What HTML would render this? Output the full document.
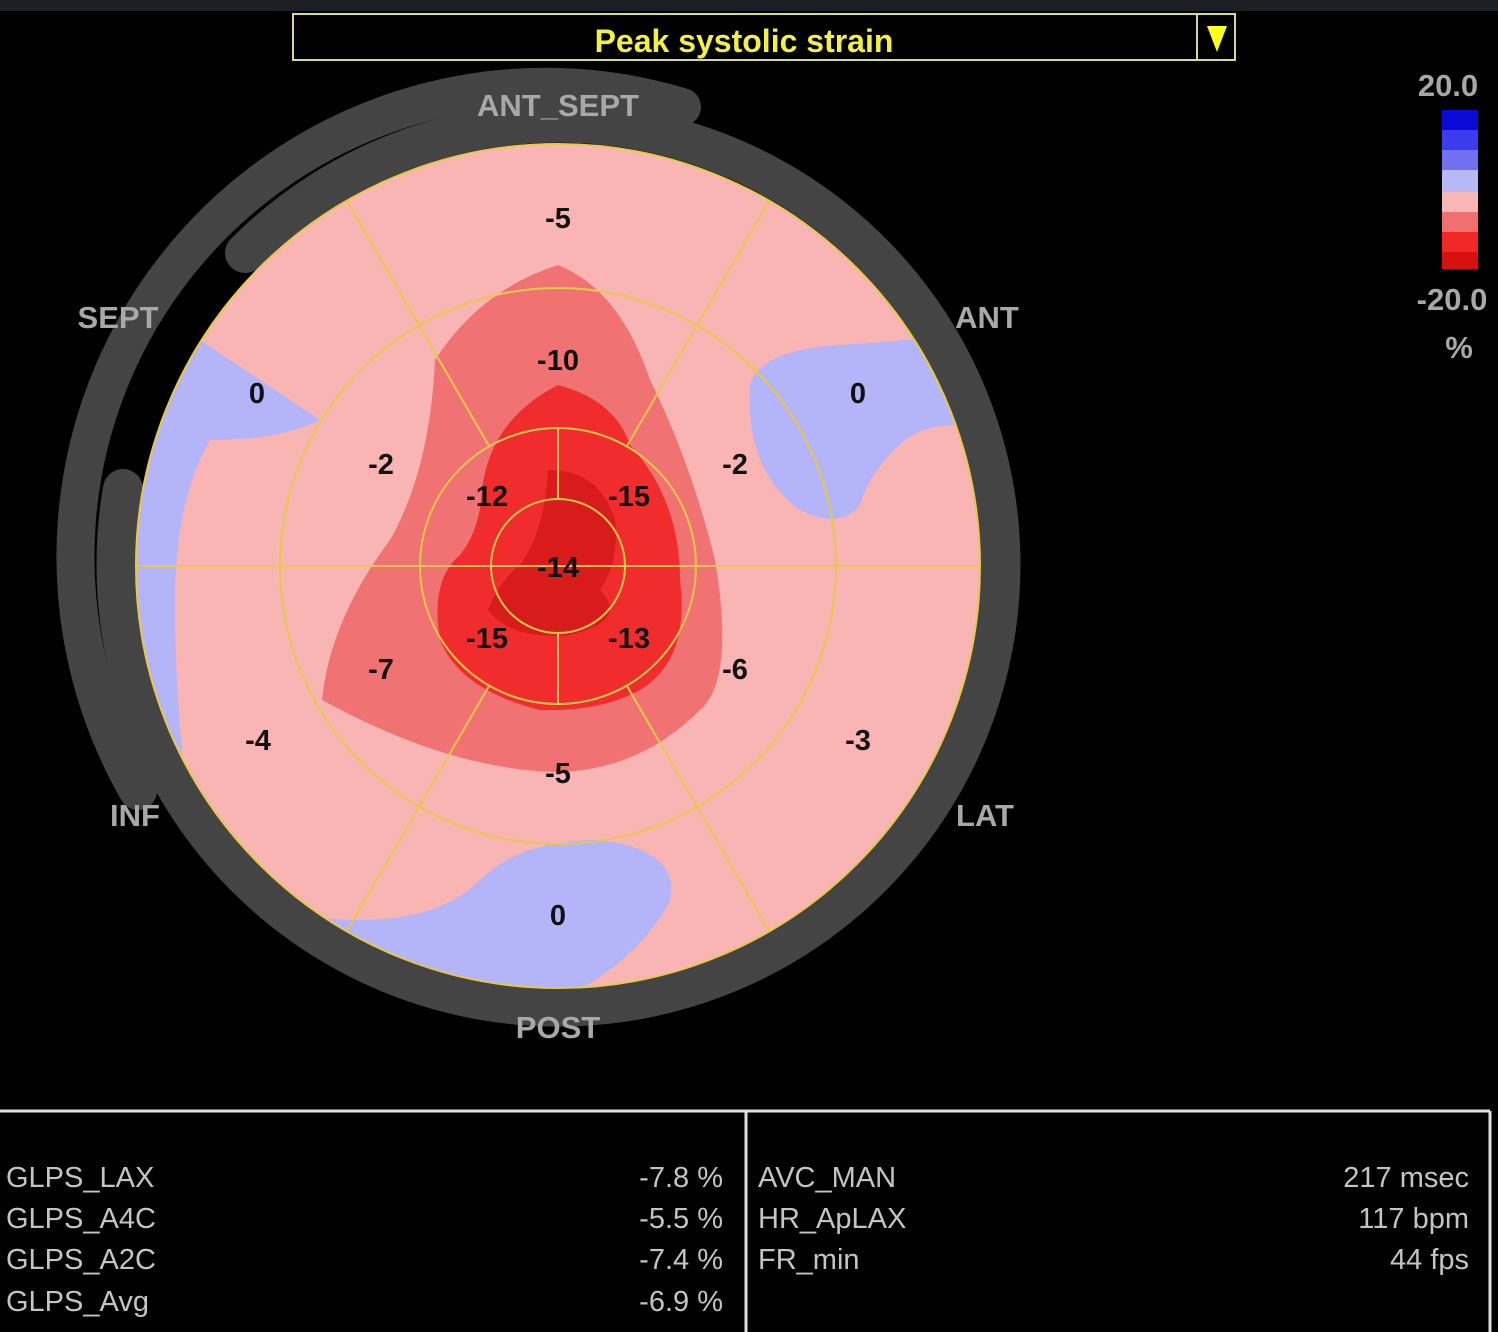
<!DOCTYPE html>
<html><head><style>
body{margin:0;background:#000;width:1498px;height:1332px;overflow:hidden;position:relative;font-family:"Liberation Sans",sans-serif}
.t{position:absolute;color:#c4c4c4;font-size:29px}
</style></head><body>
<div style="position:absolute;left:0;top:0;width:1498px;height:11px;background:#1c1e24"></div>
<svg width="1498" height="1332" style="position:absolute;left:0;top:0">
<rect x="293" y="14" width="942" height="46" fill="#000" stroke="#d8d890" stroke-width="2"/>
<line x1="1197" y1="14" x2="1197" y2="60" stroke="#d8d890" stroke-width="2"/>
<polygon points="1207,26 1227,26 1217,52" fill="#ffff20"/>
<text x="744" y="52" font-size="32" font-weight="bold" fill="#f4f040" text-anchor="middle" font-family="Liberation Sans Narrow, Liberation Sans, sans-serif">Peak systolic strain</text>
<g fill="none" stroke="#444" stroke-linecap="round">
<path d="M682,107 A470,470 0 0 0 138,791" stroke-width="38"/>
<path d="M123,489 A442,442 0 1 0 245,253" stroke-width="40"/>
</g>
<clipPath id="c"><circle cx="558" cy="566" r="422"/></clipPath>
<g clip-path="url(#c)">
<rect x="130" y="140" width="860" height="860" fill="#f9b4b4"/>
<path d="M130,330 L200,340 Q260,380 320,420 Q280,440 210,440 Q175,500 175,600 Q175,750 200,880 Q280,920 360,920 Q440,920 480,880 Q520,840 600,840 Q680,850 670,900 Q640,960 560,1000 L130,1000Z" fill="#b4b4f8"/>
<path d="M750,385 Q760,350 840,345 Q920,340 990,330 L990,425 Q930,420 905,440 Q870,470 860,505 Q840,530 800,510 Q745,470 750,385Z" fill="#b4b4f8"/>
<path d="M558,265 Q620,290 650,380 Q690,460 715,560 Q735,680 700,710 Q640,770 558,772 Q450,770 322,700 Q330,620 390,540 Q430,470 435,360 Q480,290 558,265Z" fill="#f07272"/>
<path d="M558,385 Q615,400 630,445 Q680,500 680,580 Q690,660 640,690 Q600,712 540,710 Q460,690 440,640 Q430,580 460,555 Q480,530 482,490 Q490,420 558,385Z" fill="#f02c2c"/>
<path d="M548,470 Q600,470 615,520 Q620,560 600,590 Q630,620 570,635 Q510,640 488,610 Q500,580 520,565 Q545,530 548,470Z" fill="#d81c1c"/>
</g>
<g stroke="#e6c84a" stroke-width="2" fill="none">
<circle cx="558" cy="566" r="422"/>
<circle cx="558" cy="566" r="278"/>
<circle cx="558" cy="566" r="138"/>
<circle cx="558" cy="566" r="67"/>
<line x1="136" y1="566" x2="980" y2="566"/>
<line x1="558" y1="428" x2="558" y2="499"/>
<line x1="558" y1="633" x2="558" y2="704"/>
<line x1="489" y1="446" x2="347" y2="201"/>
<line x1="627" y1="446" x2="769" y2="201"/>
<line x1="489" y1="686" x2="347" y2="931"/>
<line x1="627" y1="686" x2="769" y2="931"/>
</g>
<g font-size="29" font-weight="bold" fill="#111" text-anchor="middle">
<text x="558" y="228">-5</text><text x="558" y="370">-10</text>
<text x="257" y="403">0</text><text x="858" y="403">0</text>
<text x="381" y="474">-2</text><text x="735" y="474">-2</text>
<text x="487" y="506">-12</text><text x="629" y="506">-15</text>
<text x="558" y="577">-14</text>
<text x="487" y="648">-15</text><text x="629" y="648">-13</text>
<text x="381" y="679">-7</text><text x="735" y="679">-6</text>
<text x="258" y="750">-4</text><text x="858" y="750">-3</text>
<text x="558" y="783">-5</text><text x="558" y="925">0</text>
</g>
<g font-size="31" font-weight="bold" fill="#a8a8a8" text-anchor="middle">
<text x="558" y="116">ANT_SEPT</text><text x="118" y="328">SEPT</text>
<text x="987" y="328">ANT</text><text x="135" y="826">INF</text>
<text x="985" y="826">LAT</text><text x="558" y="1038">POST</text>
<text x="1448" y="96">20.0</text><text x="1452" y="310">-20.0</text><text x="1459" y="358">%</text>
</g>
<rect x="1442" y="110" width="36" height="20" fill="#0a0ad8"/>
<rect x="1442" y="130" width="36" height="20" fill="#3c3cec"/>
<rect x="1442" y="150" width="36" height="20" fill="#7070f0"/>
<rect x="1442" y="170" width="36" height="22" fill="#b8b8f8"/>
<rect x="1442" y="192" width="36" height="20" fill="#f8b8b8"/>
<rect x="1442" y="212" width="36" height="20" fill="#f07070"/>
<rect x="1442" y="232" width="36" height="20" fill="#f02828"/>
<rect x="1442" y="252" width="36" height="17" fill="#d81010"/>
<g stroke="#e0e0e0" stroke-width="3" fill="none">
<line x1="0" y1="1111" x2="1490" y2="1111"/>
<line x1="1490" y1="1111" x2="1490" y2="1332"/>
<line x1="746" y1="1111" x2="746" y2="1332"/>
</g>
</svg>
<div class="t" style="left:6px;top:1162px">GLPS_LAX</div>
<div class="t" style="left:6px;top:1203px">GLPS_A4C</div>
<div class="t" style="left:6px;top:1244px">GLPS_A2C</div>
<div class="t" style="left:6px;top:1286px">GLPS_Avg</div>
<div class="t" style="right:775px;top:1162px">-7.8 %</div>
<div class="t" style="right:775px;top:1203px">-5.5 %</div>
<div class="t" style="right:775px;top:1244px">-7.4 %</div>
<div class="t" style="right:775px;top:1286px">-6.9 %</div>
<div class="t" style="left:758px;top:1162px">AVC_MAN</div>
<div class="t" style="left:758px;top:1203px">HR_ApLAX</div>
<div class="t" style="left:758px;top:1244px">FR_min</div>
<div class="t" style="right:29px;top:1162px">217 msec</div>
<div class="t" style="right:29px;top:1203px">117 bpm</div>
<div class="t" style="right:29px;top:1244px">44 fps</div>
</body></html>
